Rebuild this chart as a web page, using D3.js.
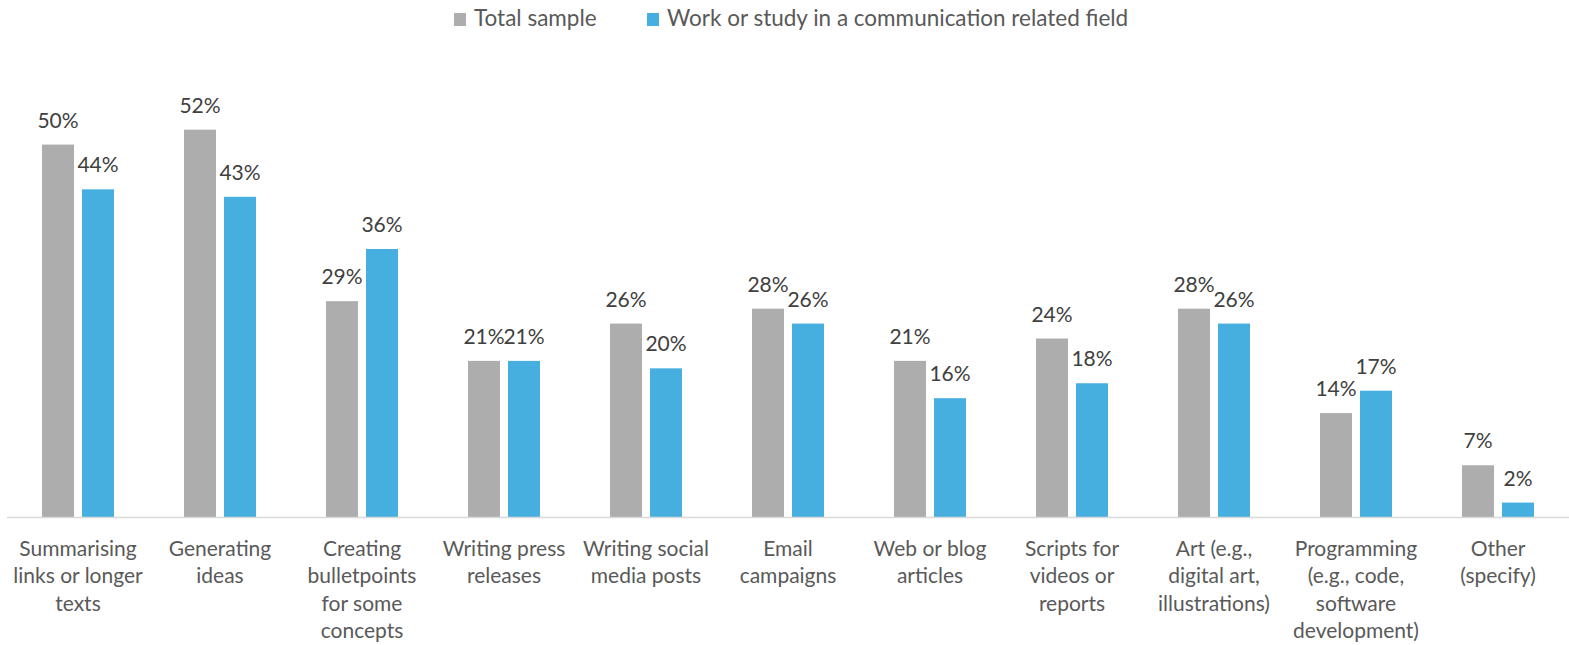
<!DOCTYPE html>
<html>
<head>
<meta charset="utf-8">
<script src="https://cdn.jsdelivr.net/npm/d3@7"></script>
<style>
  html, body { margin: 0; padding: 0; background: #fff; }
  svg { display: block; }
  text { font-family: "Lato", "Open Sans", sans-serif; }
</style>
</head>
<body>
<svg id="chart" width="1569" height="645"></svg>
<script>
const categories = [
  "Summarising\nlinks or longer\ntexts",
  "Generating\nideas",
  "Creating\nbulletpoints\nfor some\nconcepts",
  "Writing press\nreleases",
  "Writing social\nmedia posts",
  "Email\ncampaigns",
  "Web or blog\narticles",
  "Scripts for\nvideos or\nreports",
  "Art (e.g.,\ndigital art,\nillustrations)",
  "Programming\n(e.g., code,\nsoftware\ndevelopment)",
  "Other\n(specify)"
];
const seriesNames = ["Total sample", "Work or study in a communication related field"];
const totalSample = [50, 52, 29, 21, 26, 28, 21, 24, 28, 14, 7];
const commField = [44, 43, 36, 21, 20, 26, 16, 18, 26, 17, 2];
const colors = ["#ADADAD", "#47AFDF"];

const svg = d3.select("#chart");
const margin = { left: 7, right: 0, top: 70, bottom: 128 };
const W = 1569, H = 645;

const x = d3.scaleBand()
  .domain(categories)
  .range([margin.left, W - margin.right])
  .paddingInner(0)
  .paddingOuter(0);

const y = d3.scaleLinear()
  .domain([0, 60])
  .range([H - margin.bottom + 0.5, margin.top]);

const barW = 32, gap = 8;
const series = [totalSample, commField];

const g = svg.append("g");

series.forEach((vals, si) => {
  const off = si === 0 ? -(gap / 2 + barW) : gap / 2;
  g.selectAll(null)
    .data(vals)
    .enter()
    .append("rect")
    .attr("x", (d, i) => x(categories[i]) + x.bandwidth() / 2 + off)
    .attr("y", d => y(d))
    .attr("width", barW)
    .attr("height", d => y(0) - y(d))
    .attr("fill", colors[si]);

  g.selectAll(null)
    .data(vals)
    .enter()
    .append("text")
    .attr("x", (d, i) => x(categories[i]) + x.bandwidth() / 2 + off + barW / 2)
    .attr("y", d => y(d) - 17)
    .attr("text-anchor", "middle")
    .attr("font-size", 21)
    .attr("fill", "#404040")
    .text(d => d + "%");
});

// baseline
svg.append("line")
  .attr("x1", margin.left).attr("x2", W)
  .attr("y1", y(0)).attr("y2", y(0))
  .attr("stroke", "#D9D9D9")
  .attr("stroke-width", 1.5);

// category labels
const catG = svg.append("g");
categories.forEach(c => {
  const cx = x(c) + x.bandwidth() / 2;
  const t = catG.append("text")
    .attr("text-anchor", "middle")
    .attr("font-size", 21)
    .attr("fill", "#595959")
    .attr("x", cx)
    .attr("y", 556);
  c.split("\n").forEach((line, li) => {
    t.append("tspan")
      .attr("x", cx)
      .attr("dy", li === 0 ? 0 : 27.3)
      .text(line);
  });
});

// legend
const legend = svg.append("g");
const legendX = [454, 647];
seriesNames.forEach((name, i) => {
  legend.append("rect")
    .attr("x", legendX[i]).attr("y", 13)
    .attr("width", 12).attr("height", 13)
    .attr("fill", colors[i]);
  legend.append("text")
    .attr("x", legendX[i] + 20).attr("y", 26)
    .attr("font-size", 22.5)
    .attr("fill", "#595959")
    .text(name);
});
</script>
</body>
</html>
